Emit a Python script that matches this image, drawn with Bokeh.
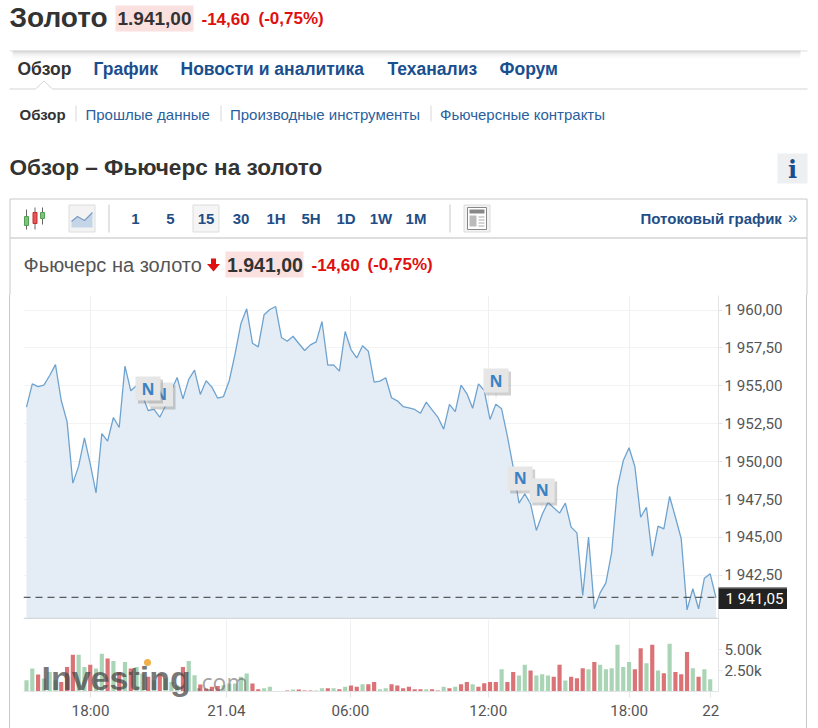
from bokeh.plotting import figure
from bokeh.layouts import column
from bokeh.models import Range1d, LinearAxis, FixedTicker, Span, ColumnDataSource
from bokeh.embed import file_html
from bokeh.resources import INLINE
from bokeh.core.properties import value

# ---------- data ----------
price = [
 1953.59,1955.13,1954.95,1955.04,1955.68,1956.40,1954.03,1952.64,1948.58,1949.70,
 1951.57,1949.85,1947.94,1951.85,1951.35,1952.91,1952.25,1956.30,1954.67,1955.02,
 1954.36,1953.37,1953.44,1952.93,1953.70,1954.69,1955.55,1954.14,1955.42,1956.03,
 1954.43,1955.33,1954.91,1954.18,1954.29,1955.35,1957.11,1959.09,1960.08,1957.81,
 1957.57,1959.68,1960.03,
 1960.23,1958.19,1957.94,1958.27,1957.79,1957.33,1957.70,1957.90,1959.24,1956.36,
 1956.38,1955.97,1958.58,1957.39,1956.84,1957.64,1957.28,1955.24,1955.31,1955.53,
 1954.21,1954.01,1953.63,1953.55,1953.44,1953.19,1953.92,1953.41,1952.93,1952.14,
 1953.77,1953.30,1955.04,1954.49,1953.52,1955.13,1954.69,1952.78,1953.79,
 1953.48,1951.66,1949.63,1947.26,1947.87,1947.21,1945.46,1946.51,1947.32,1946.95,
 1946.60,1947.26,1945.68,1945.30,1941.17,1945.02,1940.29,1941.34,1942.00,1944.03,
 1948.31,1950.07,1950.91,1949.68,1946.33,1946.99,1943.76,1945.74,1945.56,1947.70,
 1946.33,1944.91,1940.22,1941.61,1940.29,1942.31,1942.60,1941.01]

volume = [
 1.35,2.74,2.02,1.55,2.34,1.35,1.15,2.94,4.40,4.40,2.94,3.21,2.74,4.52,3.93,3.65,2.34,3.53,2.74,2.94,
 2.14,1.75,1.35,2.02,1.55,1.15,0.75,2.94,3.65,1.94,0.83,0.36,0.56,0.67,0.75,0.95,0.95,1.75,2.14,0.95,
 0.28,0.40,0.56,0.00,0.04,0.12,0.24,0.24,0.12,0.12,0.12,0.40,0.40,0.40,0.28,0.56,0.71,0.56,0.87,0.87,
 1.15,0.28,0.40,0.87,0.71,0.40,0.56,0.28,0.28,0.28,0.28,0.12,0.56,0.40,0.56,0.87,1.15,0.87,0.56,0.99,
 1.15,1.15,2.66,1.15,2.34,1.90,3.21,2.50,1.90,2.06,1.90,1.75,3.21,1.31,1.75,1.59,2.78,2.66,3.53,3.21,
 2.66,2.78,5.60,2.94,3.53,2.66,5.16,3.37,5.60,2.50,2.18,5.71,2.34,2.06,4.72,2.78,1.75,2.66,1.47]

direction = ("GGRGGGRRRGGRGGRGRGRG"
             "GRGRGGGRGGRRRRGGGGGR"
             "RGGGGRGRRRGGRGRGRRGR"
             "RGGRRRRRRGRRGRGRRGRR"
             "RRGRRGGRGGGRRGRRRGRG"
             "GGGGGRRGRGRGRRRGRGG")

time_ticks = [11.05, 34.5, 55.9, 79.7, 104.0]
time_labels = ["18:00", "21.04", "06:00", "12:00", "18:00"]
end_tick = 118.1
end_label = "22"
price_ticks = [1942.5, 1945.0, 1947.5, 1950.0, 1952.5, 1955.0, 1957.5, 1960.0]
price_labels = ["1 942,50", "1 945,00", "1 947,50", "1 950,00", "1 952,50", "1 955,00", "1 957,50", "1 960,00"]
vol_ticks = [2.5, 5.0]
vol_labels = ["2.50k", "5.00k"]
last_price = 1941.05
last_label = "1 941,05"
news_index = [23.13, 20.97, 81.03, 85.2, 89.0]
news_price = [1955.22, 1955.61, 1956.14, 1949.68, 1948.89]

W = 818
FONT = "Liberation Sans"
BLUE = "#1a4f8f"
DARK = "#333333"
RED = "#e01010"
BORDER = "#c9c9c9"
GREY = "#555555"

L, R = 23, 100            # frame 23..718 of the page
x0 = (23 - 26) / 5.794
x1 = (718 - 26) / 5.794

# ---------- header (page coordinates) ----------
HH = 295
h = figure(width=W, height=HH, x_range=Range1d(0, W), y_range=Range1d(HH, 0),
           output_backend="svg", toolbar_location=None, min_border=0)
h.frame_align = False
h.xaxis.visible = False
h.yaxis.visible = False
h.grid.visible = False
h.outline_line_color = None
h.border_fill_color = None
h.background_fill_color = None

def txt(x, y, s, size, color, bold=False, font=FONT, align="left"):
    h.text([x], [y], text=[s], text_font=value(font), text_font_size=f"{size}px", text_color=color,
           text_font_style="bold" if bold else "normal", text_baseline="middle", text_align=align)

def rect(x0_, y0_, x1_, y1_, fill=None, line=None):
    h.quad(left=[x0_], right=[x1_], top=[y0_], bottom=[y1_], fill_color=fill, line_color=line,
           fill_alpha=1 if fill else 0)

def seg(x0_, y0_, x1_, y1_, color=BORDER, w=1):
    h.line([x0_, x1_], [y0_, y1_], line_color=color, line_width=w)

rect(115, 5, 193, 31, fill="#fbe0e0")
txt(9, 17, "Золото", 28, DARK, True)
txt(117, 18, "1.941,00", 19, DARK, True)
txt(201, 18, "-14,60", 17, RED, True)
txt(258, 18, "(-0,75%)", 17, RED, True)
for i, a in enumerate([0.16, 0.08, 0.04, 0.02]):
    h.line([12, 800], [51 + i*2, 51 + i*2], line_color="#000000", line_alpha=a, line_width=2)
seg(9, 50.5, 807, 50.5, "#dddddd")
txt(17, 68, "Обзор", 17.5, DARK, True)
txt(93, 68, "График", 17.5, BLUE, True)
txt(180, 68, "Новости и аналитика", 17.5, BLUE, True)
txt(387, 68, "Теханализ", 17.5, BLUE, True)
txt(499, 68, "Форум", 17.5, BLUE, True)
seg(9, 88.5, 35, 88.5, "#d5d5d5"); seg(52, 88.5, 807, 88.5, "#d5d5d5")
h.line([35, 43.5, 52], [88.5, 80.5, 88.5], line_color="#d5d5d5")
txt(19, 114, "Обзор", 15, DARK, True)
txt(85, 114, "Прошлые данные", 15, "#2a5f9e")
txt(229.5, 114, "Производные инструменты", 15, "#2a5f9e")
txt(439.5, 114, "Фьючерсные контракты", 15, "#2a5f9e")
seg(75.5, 105, 75.5, 121, "#d8d8d8"); seg(220.5, 105, 220.5, 121, "#d8d8d8"); seg(430.5, 105, 430.5, 121, "#d8d8d8")
txt(9, 167, "Обзор – Фьючерс на золото", 22.6, DARK, True)
rect(777, 153, 807, 183, fill="#eeeff1")
txt(792, 169, "i", 24, "#1a4f8f", True, font="DejaVu Serif", align="center")

# toolbar and box sides
seg(9.5, 198.5, 806.5, 198.5); seg(9.5, 237.5, 806.5, 237.5, "#bdbdbd")
seg(9.5, 198.5, 9.5, 295); seg(806.5, 198.5, 806.5, 295)
seg(108.5, 204, 108.5, 232); seg(449.5, 204, 449.5, 232)
for x_, c, t, b, t2, b2 in [(25.5, "#7cc47c", 216, 225, 209, 229), (34, "#e85555", 212, 223, 207, 229), (41.5, "#7cc47c", 212, 218, 207, 224)]:
    seg(x_ + .5, t2, x_ + .5, b2, "#666666")
    rect(x_ - 1.5, t, x_ + 2.5, b, fill=c, line="#55a055" if c != "#e85555" else "#c03030")
rect(68.5, 204.5, 94.5, 231.5, fill="#f3f3f3", line="#dddddd")
h.patch([71, 77, 84, 92, 92, 71], [221, 216, 220, 212, 227, 227], fill_color="#c5d5e8", line_color=None)
h.line([71, 77, 84, 92], [221, 216, 220, 212], line_color="#7b9cc4", line_width=1.2)
rect(192.5, 204.5, 218.5, 231.5, fill="#f5f5f5", line="#dddddd")
for x_, s in [(135, "1"), (170, "5"), (205.5, "15"), (240.5, "30"), (275.5, "1H"), (310.5, "5H"), (345.5, "1D"), (380.5, "1W"), (415.5, "1M")]:
    txt(x_, 218, s, 15, "#1f4e86", True, align="center")
rect(463.5, 204.5, 489.5, 231.5, fill="#f3f3f3", line="#dddddd")
rect(467, 207, 486, 229, fill="#ffffff", line="#888888")
rect(469, 209, 484, 213, fill="#888888")
rect(469, 215, 476, 226, fill="#bbbbbb")
for yy in (216, 219, 222, 225):
    seg(478, yy + .5, 484, yy + .5, "#aaaaaa")
txt(640, 218, "Потоковый график", 15, "#1f4e86", True)
txt(797, 217, "»", 17, "#2a5f9e", align="right")

txt(23, 264, "Фьючерс на золото", 20, GREY)
rect(210.5, 258, 215.5, 264, fill=RED)
h.patch([206.5, 219.5, 213], [263.5, 263.5, 271], fill_color=RED, line_color=None)
rect(225, 251, 303, 277, fill="#fbe0e0")
txt(226.5, 264, "1.941,00", 19.5, DARK, True)
txt(311, 264, "-14,60", 17, RED, True)
txt(367, 264, "(-0,75%)", 17, RED, True)

borders = {"background-image": "linear-gradient(#c9c9c9,#c9c9c9),linear-gradient(#c9c9c9,#c9c9c9)",
           "background-size": "1px 100%", "background-repeat": "no-repeat",
           "background-position": "9px 0,806px 0"}

# ---------- price panel: frame page y 295..619 ----------
px_per = 15.16
ytop = 1960 + (309.5 - 295) / px_per
ybot = 1960 - (619 - 309.5) / px_per
p = figure(width=W, height=324, x_range=Range1d(x0, x1), y_range=Range1d(ybot, ytop),
           output_backend="svg", toolbar_location=None, y_axis_location=None,
           min_border_left=L, min_border_right=R, min_border_top=0, min_border_bottom=0)
p.styles = borders
p.border_fill_color = None
p.outline_line_color = None
p.xaxis.visible = False
p.xgrid.ticker = FixedTicker(ticks=time_ticks)
p.xgrid.grid_line_color = "#eef0f2"
ya = LinearAxis(ticker=FixedTicker(ticks=price_ticks), major_label_overrides=dict(zip(price_ticks, price_labels)))
ya.major_label_text_font = "Roboto"
ya.major_label_text_font_size = "15.2px"
ya.major_label_text_color = GREY
ya.axis_line_color = "#e2e4e6"
ya.major_tick_line_color = "#e2e4e6"
ya.major_tick_out = 4
ya.major_tick_in = 0
ya.major_label_standoff = 2
p.add_layout(ya, "right")
p.ygrid.ticker = FixedTicker(ticks=price_ticks)
p.ygrid.grid_line_color = "#f2f3f5"
idx = list(range(len(price)))
p.varea(x=idx, y1=[ybot] * len(price), y2=price, fill_color="#e4edf5")
p.line(idx, price, line_color="#6fa3cf", line_width=1.3)
p.add_layout(Span(location=ybot + 0.05, dimension="width", line_color="#d5d7d9", line_width=2))
p.line([x0, x1], [last_price, last_price], line_color="#333333", line_dash="7 5", line_width=1)

# news flags
fw, fh = 12.5 / 5.794, 24 / px_per
sx, sy = 2.5 / 5.794, 3 / px_per
for x_, v_ in zip(news_index, news_price):
    p.line([x_, x_], [v_ - fh, v_ - fh - 6 / px_per], line_color="#f4f4f4", line_width=2)
    p.quad(left=[x_ - fw + sx], right=[x_ + fw + sx], top=[v_ - sy], bottom=[v_ - fh - sy], fill_color="#777777",
           fill_alpha=.35, line_color=None)
    p.quad(left=[x_ - fw], right=[x_ + fw], top=[v_], bottom=[v_ - fh], fill_color="#e6e6e6", line_color=None)
    p.text([x_], [v_ - fh / 2], text=["N"], text_font=value("Open Sans"), text_font_style="bold",
           text_font_size="16px", text_color="#3b82c4", text_align="center", text_baseline="middle")

# ---------- last-price tag: a small figure laid over the axis strip ----------
tag_top = round(309.5 + (1960 - last_price) * px_per - 10)
tag = figure(width=69, height=22, x_range=Range1d(0, 69), y_range=Range1d(0, 22),
             output_backend="svg", toolbar_location=None, min_border=0,
             styles={"position": "absolute", "left": "718px", "top": f"{tag_top}px"})
tag.frame_align = False
tag.xaxis.visible = False
tag.yaxis.visible = False
tag.grid.visible = False
tag.background_fill_color = "#222222"
tag.border_fill_color = None
tag.outline_line_color = None
tag.text([7], [10.5], text=[last_label], text_font=value("Roboto"), text_font_size="15.2px",
         text_color="#ffffff", text_baseline="middle")
tag.line([0, 69, 69], [21.5, 21.5, 0], line_color="#8a8a8a", line_width=1)

# ---------- volume panel: frame page y 619..691 ----------
v = figure(width=W, height=728 - HH - 324, x_range=Range1d(x0, x1), y_range=Range1d(0, (691.3 - 619) / 8.4),
           output_backend="svg", toolbar_location=None, y_axis_location=None,
           min_border_left=L, min_border_right=R, min_border_top=0, min_border_bottom=37)
v.styles = borders
v.border_fill_color = None
v.outline_line_color = None
v.ygrid.visible = False
v.xgrid.ticker = FixedTicker(ticks=time_ticks)
v.xgrid.grid_line_color = "#eef0f2"
colors = ["#a9d5b6" if d == "G" else "#da7276" for d in direction]
vsrc = ColumnDataSource(dict(x=list(range(len(volume))), top=volume, color=colors))
v.vbar(x="x", top="top", bottom=0, width=0.72, fill_color="color", line_color=None, source=vsrc)
ax = v.xaxis[0]
ax.ticker = FixedTicker(ticks=time_ticks + [end_tick])
ax.major_label_overrides = dict(zip(time_ticks + [end_tick], time_labels + [end_label]))
ax.major_label_text_font = "Roboto"
ax.major_label_text_font_size = "15.2px"
ax.major_label_text_color = GREY
ax.axis_line_color = "#e2e4e6"
ax.major_tick_line_color = "#e2e4e6"
ax.major_tick_out = 6
ax.major_tick_in = 0
ax.major_label_standoff = 4
vy = LinearAxis(ticker=FixedTicker(ticks=vol_ticks), major_label_overrides=dict(zip(vol_ticks, vol_labels)))
vy.major_label_text_font = "Roboto"
vy.major_label_text_font_size = "15.2px"
vy.major_label_text_color = GREY
vy.axis_line_color = "#e2e4e6"
vy.major_tick_line_color = "#e2e4e6"
vy.major_tick_out = 4
vy.major_tick_in = 0
vy.major_label_standoff = 2
v.add_layout(vy, "right")

# ---------- watermark: a transparent small figure laid over the volume bars ----------
wm = figure(width=220, height=56, x_range=Range1d(0, 220), y_range=Range1d(56, 0),
            output_backend="svg", toolbar_location=None, min_border=0,
            styles={"position": "absolute", "left": "40px", "top": "652px"})
wm.frame_align = False
wm.xaxis.visible = False
wm.yaxis.visible = False
wm.grid.visible = False
wm.background_fill_color = None
wm.border_fill_color = None
wm.outline_line_color = None
wm.scatter([107], [10], size=7, marker="circle", fill_color="#f2b04a", line_color=None)
wm.text([1], [25], text=["Investing"], text_font=value("Liberation Sans"), text_font_style="bold",
        text_font_size="34px", text_color="#444444", text_alpha=.72, text_baseline="middle")
wm.text([155], [29], text=[".com"], text_font=value("Open Sans"), text_font_size="23px",
        text_color="#666666", text_alpha=.6, text_baseline="middle")

page = column(h, p, v, tag, wm, spacing=0)
open("out.html", "w").write(file_html(page, INLINE))
